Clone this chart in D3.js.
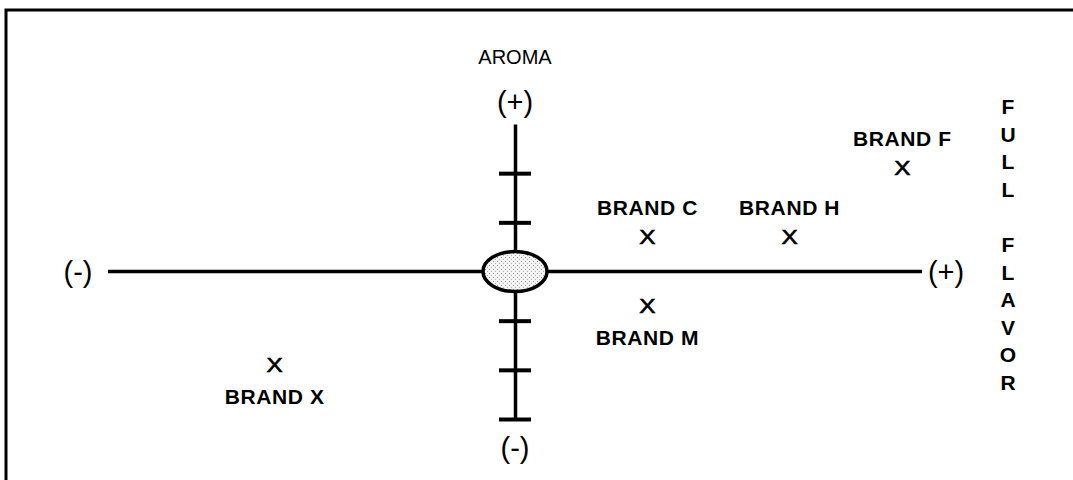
<!DOCTYPE html>
<html lang="en">
<head>
<meta charset="UTF-8">
<script src="https://d3js.org/d3.v7.min.js"></script>
<title>Aroma / Full Flavor perceptual map</title>
<style>
  body { margin: 0; background: #fff; }
  svg text { font-family: "Liberation Sans", Arial, Helvetica, sans-serif; fill: #000; }
</style>
</head>
<body>
<svg id="chart" width="1073" height="480"></svg>
<script>
// brand positions: flavor (x) and aroma (y), in tick units
var brands = ["BRAND C", "BRAND H", "BRAND M", "BRAND X", "BRAND F"];
var flavor = [2.7, 5.6, 2.7, -4.9, 7.9];
var aroma  = [0.7, 0.7, -0.7, -1.9, 2.1];

var aromaTicks = [-3, -2, -1, 1, 2];
var flavorTitle = ["F", "U", "L", "L", "", "F", "L", "A", "V", "O", "R"];

var svg = d3.select("#chart");

var x = d3.scaleLinear().domain([-8.3, 8.3]).range([108, 922]);
var y = d3.scaleLinear().domain([-3, 3]).range([419, 124]);

// frame (top and left edge only, as in the scan)
svg.append("path")
    .attr("d", "M6,480 V10 H1073")
    .attr("fill", "none")
    .attr("stroke", "#000")
    .attr("stroke-width", 3);

// stipple for the centre ellipse
var pat = svg.append("defs").append("pattern")
    .attr("id", "dots")
    .attr("width", 4).attr("height", 4)
    .attr("patternUnits", "userSpaceOnUse");
pat.append("rect").attr("width", 4).attr("height", 4).attr("fill", "#f4f4f4");
pat.append("rect").attr("x", 1).attr("y", 1).attr("width", 1).attr("height", 1).attr("fill", "#8a8a8a");
pat.append("rect").attr("x", 3).attr("y", 3).attr("width", 1).attr("height", 1).attr("fill", "#b0b0b0");

// horizontal (flavor) axis
svg.append("line")
    .attr("x1", x(-8.3)).attr("x2", x(8.3))
    .attr("y1", y(0)).attr("y2", y(0))
    .attr("stroke", "#000").attr("stroke-width", 3.5);

// vertical (aroma) axis with its ticks
var yAxis = d3.axisRight(y)
    .tickValues(aromaTicks)
    .tickSize(0)
    .tickFormat("");

var ga = svg.append("g")
    .attr("transform", "translate(" + x(0) + ",0)")
    .call(yAxis);
ga.select(".domain").attr("stroke", "#000").attr("stroke-width", 3.5);
ga.selectAll(".tick line")
    .attr("x1", -16).attr("x2", 16)
    .attr("stroke", "#000").attr("stroke-width", 4);

svg.append("ellipse")
    .attr("cx", x(0)).attr("cy", y(0))
    .attr("rx", 32).attr("ry", 20)
    .attr("fill", "url(#dots)")
    .attr("stroke", "#000").attr("stroke-width", 3.5);

// end labels
svg.append("text").attr("x", x(0)).attr("y", 64)
    .attr("text-anchor", "middle").attr("font-size", 20).text("AROMA");

var ends = [
    {t: "(+)", px: x(0), py: y(3) - 22},
    {t: "(-)", px: x(0), py: y(-3) + 29},
    {t: "(-)", px: x(-8.3) - 30, py: y(0)},
    {t: "(+)", px: x(8.3) + 24, py: y(0)}
];
svg.selectAll(".end").data(ends).enter().append("text")
    .attr("class", "end")
    .attr("x", d => d.px).attr("y", d => d.py + 10)
    .attr("text-anchor", "middle")
    .attr("font-size", 29)
    .text(d => d.t);

// brand markers
var pts = svg.selectAll(".brand")
    .data(brands)
    .enter().append("g")
    .attr("class", "brand")
    .attr("transform", (d, i) => "translate(" + x(flavor[i]) + "," + y(aroma[i]) + ")");

pts.append("text")
    .attr("y", 7)
    .attr("text-anchor", "middle")
    .attr("font-size", 20)
    .attr("stroke", "#000")
    .attr("stroke-width", 0.6)
    .attr("transform", "scale(1.22,1)")
    .text("X");

pts.append("text")
    .attr("y", (d, i) => aroma[i] > 0 ? -22 : 39)
    .attr("text-anchor", "middle")
    .attr("font-size", 21)
    .attr("font-weight", "bold")
    .attr("letter-spacing", 0.6)
    .text(d => d);

// FULL FLAVOR written downward on the right
var ty = d3.scalePoint().domain(d3.range(flavorTitle.length)).range([106, 382]);
svg.selectAll(".title")
    .data(flavorTitle)
    .enter().append("text")
    .attr("class", "title")
    .attr("x", 1008)
    .attr("y", (d, i) => ty(i) + 8)
    .attr("text-anchor", "middle")
    .attr("font-size", 21)
    .attr("font-weight", "bold")
    .text(d => d);
</script>
</body>
</html>
